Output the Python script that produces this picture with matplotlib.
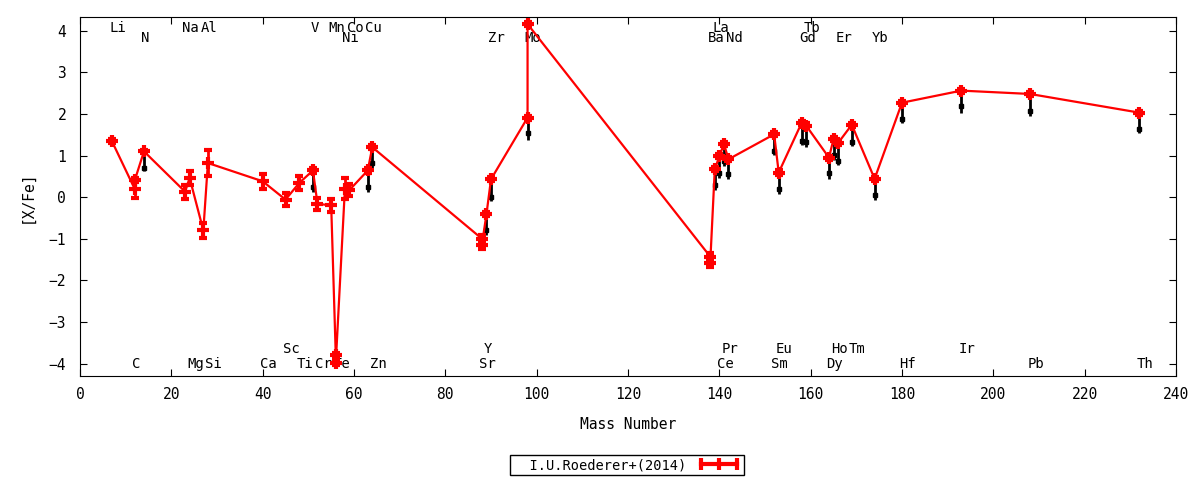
import matplotlib
matplotlib.use("Agg")
from matplotlib import pyplot as plt
from matplotlib.lines import Line2D
import numpy as np

# red series: mass number, [X/Fe], error
mass = [7, 12, 12, 14, 23, 24, 27, 28, 40, 45, 48, 51, 52, 55, 56, 56, 58, 59, 63, 64,
        88, 88, 89, 90, 98, 98, 138, 138, 139, 140, 141, 142, 152, 153, 158, 159,
        164, 165, 166, 169, 174, 180, 193, 208, 232]
xfe = [1.34, 0.19, 0.41, 1.10, 0.13, 0.46, -0.80, 0.82, 0.38, -0.06, 0.34, 0.64, -0.16,
       -0.20, -3.80, -3.98, 0.20, 0.17, 0.64, 1.20, -1.00, -1.15, -0.41, 0.43, 1.91,
       4.16, -1.43, -1.58, 0.67, 0.98, 1.28, 0.91, 1.51, 0.59, 1.78, 1.72, 0.95, 1.39,
       1.30, 1.74, 0.44, 2.27, 2.56, 2.48, 2.03]
xfe_err = [0.05, 0.22, 0.05, 0.04, 0.17, 0.16, 0.18, 0.32, 0.18, 0.16, 0.17, 0.05, 0.15,
           0.15, 0.05, 0.05, 0.25, 0.15, 0.05, 0.05, 0.08, 0.10, 0.05, 0.05, 0.05, 0.05,
           0.08, 0.10, 0.05, 0.05, 0.05, 0.05, 0.05, 0.05, 0.05, 0.05, 0.05, 0.05, 0.05,
           0.05, 0.05, 0.05, 0.05, 0.05, 0.05]

# black bars
b_mass = [14, 51, 63, 64, 89, 90, 98, 139, 140, 141, 142, 152, 153, 158, 159, 164, 165,
          166, 169, 174, 180, 193, 208, 232]
b_top = [1.10, 0.64, 0.64, 1.20, -0.41, 0.43, 1.91, 0.67, 0.98, 1.28, 0.91, 1.51, 0.59,
         1.78, 1.72, 0.95, 1.39, 1.30, 1.74, 0.44, 2.27, 2.56, 2.48, 2.03]
b_mid = [0.71, 0.25, 0.25, 0.81, -0.79, 0.01, 1.54, 0.30, 0.59, 0.86, 0.56, 1.12, 0.20,
         1.36, 1.32, 0.58, 1.02, 0.88, 1.32, 0.04, 1.88, 2.18, 2.08, 1.64]
b_low = [0.62, 0.12, 0.12, 0.67, -0.91, -0.10, 1.38, 0.18, 0.46, 0.74, 0.43, 1.02, 0.08,
         1.26, 1.20, 0.43, 0.90, 0.78, 1.22, -0.06, 1.78, 2.03, 1.94, 1.54]

# element labels: name, mass number (four rows)
el_top1 = [("Li", 7), ("Na", 23), ("Al", 27), ("V", 51), ("Mn", 55), ("Co", 59),
           ("Cu", 63), ("La", 139), ("Tb", 159)]
el_top2 = [("N", 14), ("Ni", 58), ("Zr", 90), ("Mo", 98), ("Ba", 138), ("Nd", 142),
           ("Gd", 158), ("Er", 166), ("Yb", 174)]
el_bot1 = [("C", 12), ("Mg", 24), ("Si", 28), ("Ca", 40), ("Ti", 48), ("Cr", 52),
           ("Fe", 56), ("Zn", 64), ("Sr", 88), ("Ce", 140), ("Sm", 152), ("Dy", 164),
           ("Hf", 180), ("Pb", 208), ("Th", 232)]
el_bot2 = [("Sc", 45), ("Y", 89), ("Pr", 141), ("Eu", 153), ("Ho", 165), ("Tm", 169),
           ("Ir", 193)]
row_y = [4.07, 3.83, -4.0, -3.64]

plt.rcParams['font.family'] = ['DejaVu Sans Mono']
plt.rcParams['font.size'] = 10

fig = plt.figure(figsize=(12, 4.8), dpi=100)
ax = fig.add_axes([0.0667, 0.2167, 0.9133, 0.7479])

mid = np.array(b_mid)
ax.errorbar(b_mass, b_mid,
            yerr=[mid - np.array(b_low), np.array(b_top) - mid],
            fmt='s', color='black', ms=3.5, elinewidth=2, capsize=0, zorder=2)

ax.errorbar(mass, xfe, yerr=xfe_err, fmt='-', color='red', lw=1.6,
            marker='+', ms=9, mew=3, elinewidth=2, capsize=3, capthick=3, zorder=3)

for rows, yy in zip([el_top1, el_top2, el_bot1, el_bot2], row_y):
    for name, m in rows:
        ax.text(m - 0.6, yy, name, ha='left', va='center', fontsize=10, zorder=1)

ax.set_xlim(0, 240)
ax.set_ylim(-4.3, 4.33)
ax.set_xticks(range(0, 241, 20))
ax.set_yticks(range(-4, 5))
ax.tick_params(direction='in', top=True, right=True, length=5, labelsize=10.5)
ax.tick_params(axis='x', pad=8)
ax.tick_params(axis='y', pad=10)
ax.set_xlabel("Mass Number", fontsize=10.5, labelpad=11)
ax.set_ylabel("[X/Fe]", fontsize=10.5, labelpad=10)

handle = Line2D([0], [0], color='red', lw=3, marker='|', ms=8, mew=3)
leg = fig.legend([handle], ["  I.U.Roederer+(2014)"], loc='center',
                 bbox_to_anchor=(0.5225, 0.031), markerfirst=False, numpoints=3,
                 fancybox=False, edgecolor='black', framealpha=1, fontsize=9.8,
                 borderpad=0.2, handlelength=3.2, handletextpad=0.8)
leg.get_frame().set_linewidth(1)

fig.savefig("out.png", dpi=100)
